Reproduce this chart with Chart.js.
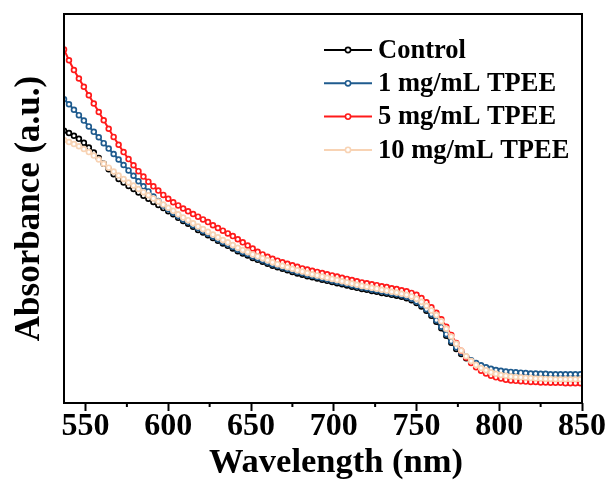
<!DOCTYPE html>
<html lang="en">
<head>
<meta charset="UTF-8">
<title>Absorbance spectra</title>
<style>
  html, body { margin: 0; padding: 0; background: #fff; }
  #chartContainer { width: 611px; height: 486px; }
</style>
</head>
<body>

<div id="chartContainer">
    <canvas id="absChart" width="611" height="486"></canvas>
</div>

<script src="https://cdn.jsdelivr.net/npm/chart.js"></script>
<script>
    // wavelength (nm), one symbol every 3 nm as in the picture
    const wavelengths = [537, 540, 543, 546, 549, 552, 555, 558, 561, 564, 567, 570, 573, 576, 579, 582, 585, 588, 591, 594, 597, 600,
        603, 606, 609, 612, 615, 618, 621, 624, 627, 630, 633, 636, 639, 642, 645, 648, 651, 654, 657, 660,
        663, 666, 669, 672, 675, 678, 681, 684, 687, 690, 693, 696, 699,
        702, 705, 708, 711, 714, 717, 720, 723, 726, 729, 732, 735, 738, 741, 744, 747, 750, 753, 756, 759,
        762, 765, 768, 771, 774, 777, 780, 783, 786, 789, 792, 795, 798, 801,
        804, 807, 810, 813, 816, 819, 822, 825, 828, 831, 834, 837, 840, 843, 846, 849];

    // absorbance (a.u.)
    const control = [0.700, 0.694, 0.687, 0.679, 0.669, 0.657, 0.644, 0.630, 0.615, 0.601, 0.588, 0.576, 0.567, 0.558, 0.550, 0.541, 0.533, 0.525, 0.517, 0.509, 0.501, 0.493,
        0.485, 0.476, 0.468, 0.461, 0.453, 0.445, 0.438, 0.431, 0.424, 0.417, 0.410, 0.404, 0.397, 0.390, 0.384, 0.379, 0.373, 0.368, 0.363, 0.358,
        0.353, 0.349, 0.345, 0.341, 0.337, 0.333, 0.330, 0.326, 0.323, 0.320, 0.317, 0.314, 0.311,
        0.308, 0.305, 0.302, 0.299, 0.296, 0.293, 0.291, 0.288, 0.286, 0.283, 0.281, 0.278, 0.276, 0.273, 0.269, 0.264, 0.257, 0.248, 0.237, 0.224,
        0.209, 0.192, 0.173, 0.155, 0.139, 0.126, 0.115, 0.106, 0.099, 0.094, 0.089, 0.085, 0.082, 0.080,
        0.078, 0.077, 0.076, 0.075, 0.074, 0.073, 0.073, 0.072, 0.072, 0.071, 0.071, 0.071, 0.071, 0.071, 0.071, 0.071];

    const tpee1 = [0.781, 0.768, 0.754, 0.740, 0.726, 0.711, 0.697, 0.683, 0.668, 0.654, 0.640, 0.626, 0.612, 0.598, 0.584, 0.570, 0.557, 0.544, 0.531, 0.519, 0.508, 0.498,
        0.489, 0.481, 0.472, 0.465, 0.457, 0.450, 0.442, 0.435, 0.428, 0.421, 0.414, 0.408, 0.401, 0.394, 0.388, 0.383, 0.377, 0.372, 0.367, 0.362,
        0.357, 0.353, 0.349, 0.345, 0.341, 0.337, 0.334, 0.330, 0.327, 0.324, 0.321, 0.318, 0.315,
        0.312, 0.309, 0.306, 0.303, 0.300, 0.297, 0.295, 0.292, 0.290, 0.287, 0.285, 0.282, 0.280, 0.277, 0.273, 0.268, 0.261, 0.252, 0.241, 0.228,
        0.213, 0.196, 0.177, 0.159, 0.143, 0.130, 0.119, 0.110, 0.103, 0.097, 0.092, 0.088, 0.085, 0.083,
        0.081, 0.080, 0.079, 0.078, 0.077, 0.076, 0.076, 0.075, 0.075, 0.074, 0.074, 0.074, 0.074, 0.074, 0.074, 0.074];

    const tpee5 = [0.909, 0.881, 0.856, 0.834, 0.813, 0.791, 0.770, 0.748, 0.727, 0.705, 0.684, 0.664, 0.645, 0.627, 0.611, 0.596, 0.582, 0.569, 0.557, 0.546, 0.535, 0.525,
        0.516, 0.508, 0.500, 0.493, 0.486, 0.479, 0.472, 0.465, 0.457, 0.450, 0.443, 0.436, 0.429, 0.421, 0.413, 0.405, 0.397, 0.389, 0.382, 0.376,
        0.371, 0.366, 0.362, 0.358, 0.354, 0.350, 0.346, 0.343, 0.340, 0.337, 0.334, 0.331, 0.328,
        0.325, 0.322, 0.319, 0.316, 0.313, 0.310, 0.308, 0.305, 0.303, 0.300, 0.298, 0.295, 0.293, 0.290, 0.287, 0.283, 0.278, 0.270, 0.259, 0.246,
        0.232, 0.215, 0.196, 0.175, 0.154, 0.134, 0.117, 0.103, 0.092, 0.083, 0.076, 0.070, 0.066, 0.063,
        0.060, 0.058, 0.057, 0.056, 0.055, 0.054, 0.054, 0.053, 0.053, 0.052, 0.052, 0.052, 0.051, 0.051, 0.051, 0.051];

    const tpee10 = [0.676, 0.671, 0.666, 0.660, 0.653, 0.645, 0.636, 0.626, 0.615, 0.605, 0.595, 0.585, 0.576, 0.567, 0.559, 0.550, 0.542, 0.534, 0.526, 0.518, 0.510, 0.502,
        0.494, 0.485, 0.477, 0.470, 0.462, 0.454, 0.447, 0.440, 0.433, 0.426, 0.419, 0.413, 0.406, 0.399, 0.393, 0.388, 0.382, 0.377, 0.372, 0.367,
        0.362, 0.357, 0.353, 0.349, 0.345, 0.341, 0.338, 0.334, 0.331, 0.328, 0.325, 0.322, 0.319,
        0.316, 0.313, 0.310, 0.307, 0.304, 0.301, 0.299, 0.296, 0.294, 0.291, 0.289, 0.286, 0.284, 0.281, 0.278, 0.274, 0.268, 0.260, 0.250, 0.238,
        0.226, 0.210, 0.191, 0.171, 0.152, 0.135, 0.120, 0.108, 0.098, 0.090, 0.084, 0.079, 0.075, 0.072,
        0.070, 0.068, 0.067, 0.066, 0.065, 0.064, 0.063, 0.063, 0.062, 0.062, 0.061, 0.061, 0.061, 0.061, 0.061, 0.061];

    const xTicks = [550, 600, 650, 700, 750, 800, 850];
    const xMinorTicks = [575, 625, 675, 725, 775, 825];
    const seriesNames = ['Control', '1 mg/mL TPEE', '5 mg/mL TPEE', '10 mg/mL TPEE'];
    const seriesColors = ['#000000', '#1f5b8e', '#ff1a1a', '#f8d3b4'];

    const serif = "'Liberation Serif', 'Times New Roman', serif";

    function toPoints(values) {
        return values.map((v, i) => ({ x: wavelengths[i], y: v }));
    }

    function makeDataset(values, idx, order) {
        return {
            label: seriesNames[idx],
            data: toPoints(values),
            borderColor: seriesColors[idx],
            borderWidth: 2,
            pointRadius: 2.4,
            pointBorderWidth: 1.7,
            pointBorderColor: seriesColors[idx],
            pointBackgroundColor: '#ffffff',
            tension: 0,
            fill: false,
            order: order
        };
    }

    // frame, minor ticks, x title and the legend with line + marker
    const framePlugin = {
        id: 'frame',
        afterDraw(chart) {
            const ctx = chart.ctx;
            const a = chart.chartArea;
            const xs = chart.scales.x;
            ctx.save();
            ctx.strokeStyle = '#000';
            ctx.lineWidth = 2;
            ctx.strokeRect(a.left, a.top, a.right - a.left, a.bottom - a.top);

            ctx.beginPath();
            xMinorTicks.forEach(t => {
                const px = xs.getPixelForValue(t);
                ctx.moveTo(px, a.bottom);
                ctx.lineTo(px, a.bottom + 4);
            });
            ctx.stroke();

            // x axis title, sits a little right of centre in the original
            ctx.fillStyle = '#000';
            ctx.font = 'bold 34.5px ' + serif;
            ctx.textAlign = 'center';
            ctx.textBaseline = 'middle';
            ctx.fillText('Wavelength (nm)', (a.left + a.right) / 2 + 13, a.bottom + 60);

            // legend
            const lx = a.right - 258;
            const ty = a.top + 36;
            ctx.font = 'bold 26.5px ' + serif;
            ctx.textAlign = 'left';
            seriesNames.forEach((name, i) => {
                const y = ty + i * 33.3;
                ctx.strokeStyle = seriesColors[i];
                ctx.lineWidth = 2;
                ctx.beginPath();
                ctx.moveTo(lx, y);
                ctx.lineTo(lx + 48, y);
                ctx.stroke();
                ctx.beginPath();
                ctx.arc(lx + 24, y, 2.6, 0, Math.PI * 2);
                ctx.fillStyle = '#fff';
                ctx.fill();
                ctx.lineWidth = 1.6;
                ctx.stroke();
                ctx.fillStyle = '#000';
                ctx.fillText(name, lx + 54, y + 1);
            });
            ctx.restore();
        }
    };

    const ctx = document.getElementById('absChart').getContext('2d');
    new Chart(ctx, {
        type: 'line',
        data: {
            datasets: [
                makeDataset(control, 0, 3),
                makeDataset(tpee1, 1, 2),
                makeDataset(tpee5, 2, 1),
                makeDataset(tpee10, 3, 0)
            ]
        },
        options: {
            responsive: false,
            animation: false,
            layout: { padding: { left: 0, right: 29, top: 14, bottom: 0 } },
            plugins: {
                legend: { display: false },
                tooltip: { enabled: false }
            },
            scales: {
                x: {
                    type: 'linear',
                    min: 537,
                    max: 850,
                    afterFit: s => { s.height = 83; },
                    afterBuildTicks: s => { s.ticks = xTicks.map(v => ({ value: v })); },
                    border: { display: false },
                    grid: {
                        drawOnChartArea: false,
                        drawTicks: true,
                        tickLength: 8,
                        tickWidth: 2,
                        tickColor: '#000'
                    },
                    ticks: {
                        color: '#000',
                        padding: 0,
                        maxRotation: 0,
                        autoSkip: false,
                        font: { family: serif, size: 32, weight: 'bold', lineHeight: 1 }
                    }
                },
                y: {
                    min: 0,
                    max: 1,
                    afterFit: s => { s.width = 64; },
                    border: { display: false },
                    grid: { display: false },
                    ticks: { display: false },
                    title: {
                        display: true,
                        text: 'Absorbance (a.u.)',
                        color: '#000',
                        font: { family: serif, size: 35, weight: 'bold' },
                        padding: { top: 9, bottom: 0 }
                    }
                }
            }
        },
        plugins: [framePlugin]
    });
</script>

</body>
</html>
